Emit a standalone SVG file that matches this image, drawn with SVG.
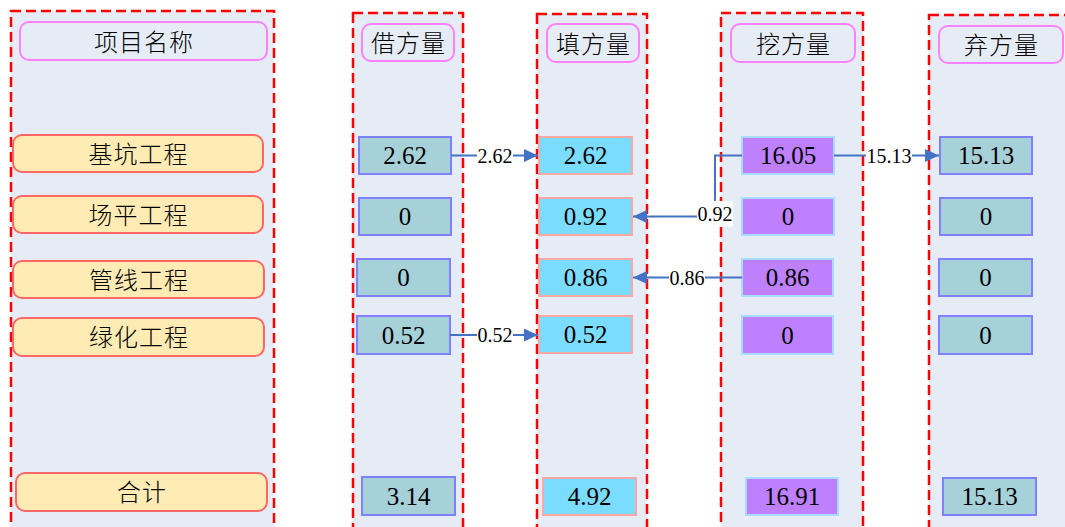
<svg xmlns="http://www.w3.org/2000/svg" width="1065" height="527" viewBox="0 0 1065 527">
<defs>
<style>
.col{fill:#E6ECF6;stroke:#FF0000;stroke-width:2.5;stroke-dasharray:10 5}
.hdr{fill:#E6ECF6;stroke:#FF80FF;stroke-width:2}
.item{fill:#FFEBB3;stroke:#FF6666;stroke-width:2}
.teal{fill:#A6D1D8;stroke:#8080FF;stroke-width:2}
.cyan{fill:#7ADCFF;stroke:#FFA6A6;stroke-width:2}
.purp{fill:#BF80FF;stroke:#A6DDFF;stroke-width:2}
text{font-family:"Liberation Serif","Noto Sans CJK SC",serif;fill:#000;text-anchor:middle}
.t{font-size:25px}
.cn{font-size:24px;font-weight:300;letter-spacing:1px}
.lbl{font-size:20px}
.edge{fill:none;stroke:#4472C4;stroke-width:2}
.lbg{fill:#FFFFFF}
</style>
<marker id="arr" markerUnits="userSpaceOnUse" markerWidth="15" markerHeight="13" refX="14" refY="6.5" orient="auto">
<path d="M0,0 L14,6.5 L0,13 z" fill="#4472C4"/>
</marker>
</defs>

<g id="columns">
<rect class="col" x="11" y="11" width="263" height="540"/>
<rect class="col" x="353" y="13" width="110" height="540"/>
<rect class="col" x="537" y="14" width="110" height="540"/>
<rect class="col" x="721" y="13" width="142" height="540"/>
<rect class="col" x="929" y="15" width="160" height="540"/>
</g>

<g id="h-name"><rect class="hdr" x="20" y="22" width="247" height="38" rx="9"/><text class="cn" x="144" y="50.5">项目名称</text></g>
<g id="h-borrow"><rect class="hdr" x="362" y="24" width="92" height="37" rx="9"/><text class="cn" x="408.5" y="52">借方量</text></g>
<g id="h-fill"><rect class="hdr" x="547" y="24" width="92" height="38" rx="9"/><text class="cn" x="593.5" y="52.5">填方量</text></g>
<g id="h-dig"><rect class="hdr" x="731" y="24" width="124" height="38" rx="9"/><text class="cn" x="793.5" y="52.5">挖方量</text></g>
<g id="h-waste"><rect class="hdr" x="939" y="26" width="124" height="37" rx="9"/><text class="cn" x="1001.5" y="54">弃方量</text></g>

<g id="i-jikeng"><rect class="item" x="13" y="135" width="250" height="37" rx="9"/><text class="cn" x="138.5" y="162.5">基坑工程</text></g>
<g id="i-changping"><rect class="item" x="13" y="196" width="250" height="37" rx="9"/><text class="cn" x="138.5" y="223.5">场平工程</text></g>
<g id="i-guanxian"><rect class="item" x="13" y="261" width="251" height="37" rx="9"/><text class="cn" x="139" y="288.5">管线工程</text></g>
<g id="i-lvhua"><rect class="item" x="13" y="318" width="251" height="38" rx="9"/><text class="cn" x="139" y="346">绿化工程</text></g>
<g id="i-total"><rect class="item" x="16" y="473" width="251" height="38" rx="9"/><text class="cn" x="142" y="501">合计</text></g>

<g id="b1"><rect class="teal" x="359" y="137" width="92" height="37"/><text class="t" x="405" y="164">2.62</text></g>
<g id="b2"><rect class="teal" x="359" y="198" width="92" height="37"/><text class="t" x="405" y="225">0</text></g>
<g id="b3"><rect class="teal" x="357" y="259" width="93" height="37"/><text class="t" x="403.5" y="286">0</text></g>
<g id="b4"><rect class="teal" x="357" y="316" width="93" height="38"/><text class="t" x="403.5" y="343.5">0.52</text></g>
<g id="b5"><rect class="teal" x="362" y="477" width="93" height="38"/><text class="t" x="408.5" y="504.5">3.14</text></g>

<g id="f1"><rect class="cyan" x="539" y="137" width="93" height="37"/><text class="t" x="585.5" y="164">2.62</text></g>
<g id="f2"><rect class="cyan" x="539" y="198" width="93" height="37"/><text class="t" x="585.5" y="225">0.92</text></g>
<g id="f3"><rect class="cyan" x="539" y="259" width="93" height="37"/><text class="t" x="585.5" y="286">0.86</text></g>
<g id="f4"><rect class="cyan" x="539" y="316" width="93" height="37"/><text class="t" x="585.5" y="343">0.52</text></g>
<g id="f5"><rect class="cyan" x="543" y="478" width="93" height="37"/><text class="t" x="589.5" y="505">4.92</text></g>

<g id="d1"><rect class="purp" x="742" y="137" width="92" height="37"/><text class="t" x="788" y="164">16.05</text></g>
<g id="d2"><rect class="purp" x="742" y="198" width="92" height="37"/><text class="t" x="788" y="225">0</text></g>
<g id="d3"><rect class="purp" x="742" y="259" width="91" height="37"/><text class="t" x="787.5" y="286">0.86</text></g>
<g id="d4"><rect class="purp" x="742" y="316" width="91" height="38"/><text class="t" x="787.5" y="343.5">0</text></g>
<g id="d5"><rect class="purp" x="746" y="478" width="92" height="37"/><text class="t" x="792" y="505">16.91</text></g>

<g id="w1"><rect class="teal" x="940" y="137" width="92" height="37"/><text class="t" x="986" y="164">15.13</text></g>
<g id="w2"><rect class="teal" x="940" y="198" width="92" height="37"/><text class="t" x="986" y="225">0</text></g>
<g id="w3"><rect class="teal" x="939" y="259" width="93" height="37"/><text class="t" x="985.5" y="286">0</text></g>
<g id="w4"><rect class="teal" x="939" y="316" width="93" height="38"/><text class="t" x="985.5" y="343.5">0</text></g>
<g id="w5"><rect class="teal" x="943" y="478" width="93" height="37"/><text class="t" x="989.5" y="505">15.13</text></g>

<g id="connectors">
<path class="edge" d="M451,155.5 H538" marker-end="url(#arr)"/>
<path class="edge" d="M450,335 H538" marker-end="url(#arr)"/>
<path class="edge" d="M742,277.5 H633" marker-end="url(#arr)"/>
<path class="edge" d="M742,155.5 H715 V216.5 H633" marker-end="url(#arr)"/>
<path class="edge" d="M834,155.5 H939" marker-end="url(#arr)"/>
<rect class="lbg" x="477" y="144" width="36" height="24"/><text class="lbl" x="495" y="163">2.62</text>
<rect class="lbg" x="477" y="323" width="36" height="24"/><text class="lbl" x="495" y="342">0.52</text>
<rect class="lbg" x="669" y="266" width="36" height="24"/><text class="lbl" x="687" y="285">0.86</text>
<rect class="lbg" x="697" y="201" width="36" height="26"/><text class="lbl" x="715" y="221">0.92</text>
<rect class="lbg" x="866" y="143" width="46" height="24"/><text class="lbl" x="889" y="162.5">15.13</text>
</g>
</svg>
